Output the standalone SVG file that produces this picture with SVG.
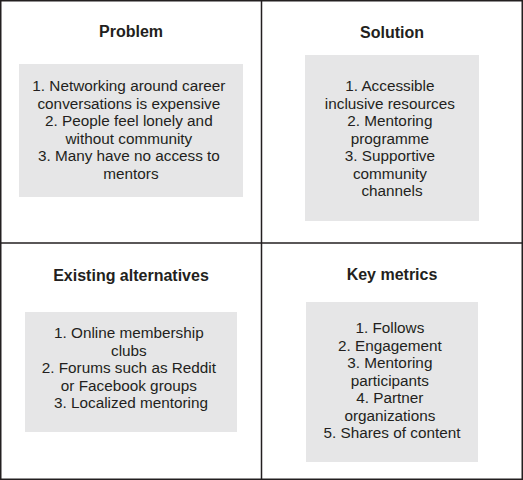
<svg xmlns="http://www.w3.org/2000/svg" width="523" height="480" viewBox="0 0 523 480">
<style>
.frame{fill:none;stroke:#231f20;stroke-width:1.5}
.box{fill:#e6e6e7}
.title{font-family:"Liberation Sans",Arial,sans-serif;font-size:16px;font-weight:bold;fill:#231f20;text-anchor:middle}
.body{font-family:"Liberation Sans",Arial,sans-serif;font-size:15.3px;fill:#231f20;text-anchor:middle}
</style>
<rect width="523" height="480" fill="#ffffff"/>
<g id="grid">
<rect class="frame" x="0.75" y="0.75" width="521.5" height="478.5"/>
<line class="frame" x1="261.5" y1="0" x2="261.5" y2="480"/>
<line class="frame" x1="0" y1="243" x2="523" y2="243"/>
</g>
<g id="problem">
<text class="title" x="131" y="37">Problem</text>
<rect class="box" x="19" y="64" width="224" height="133"/>
<text class="body" x="131">
<tspan x="131" y="91">1. Networking around career</tspan>
<tspan x="131" y="108.5">conversations is expensive</tspan>
<tspan x="131" y="126">2. People feel lonely and</tspan>
<tspan x="131" y="143.5">without community</tspan>
<tspan x="131" y="161">3. Many have no access to</tspan>
<tspan x="131" y="178.5">mentors</tspan>
</text>
</g>
<g id="solution">
<text class="title" x="392" y="38">Solution</text>
<rect class="box" x="305" y="55" width="174" height="166"/>
<text class="body">
<tspan x="392" y="91">1. Accessible</tspan>
<tspan x="392" y="108.5">inclusive resources</tspan>
<tspan x="392" y="126">2. Mentoring</tspan>
<tspan x="392" y="143.5">programme</tspan>
<tspan x="392" y="161">3. Supportive</tspan>
<tspan x="392" y="178.5">community</tspan>
<tspan x="392" y="196">channels</tspan>
</text>
</g>
<g id="existing-alternatives">
<text class="title" x="131" y="281">Existing alternatives</text>
<rect class="box" x="25" y="312" width="212" height="120"/>
<text class="body">
<tspan x="131" y="338">1. Online membership</tspan>
<tspan x="131" y="355.5">clubs</tspan>
<tspan x="131" y="373">2. Forums such as Reddit</tspan>
<tspan x="131" y="390.5">or Facebook groups</tspan>
<tspan x="131" y="408">3. Localized mentoring</tspan>
</text>
</g>
<g id="key-metrics">
<text class="title" x="392" y="280">Key metrics</text>
<rect class="box" x="306" y="302" width="172" height="160"/>
<text class="body">
<tspan x="392" y="333">1. Follows</tspan>
<tspan x="392" y="350.5">2. Engagement</tspan>
<tspan x="392" y="368">3. Mentoring</tspan>
<tspan x="392" y="385.5">participants</tspan>
<tspan x="392" y="403">4. Partner</tspan>
<tspan x="392" y="420.5">organizations</tspan>
<tspan x="392" y="438">5. Shares of content</tspan>
</text>
</g>
</svg>
